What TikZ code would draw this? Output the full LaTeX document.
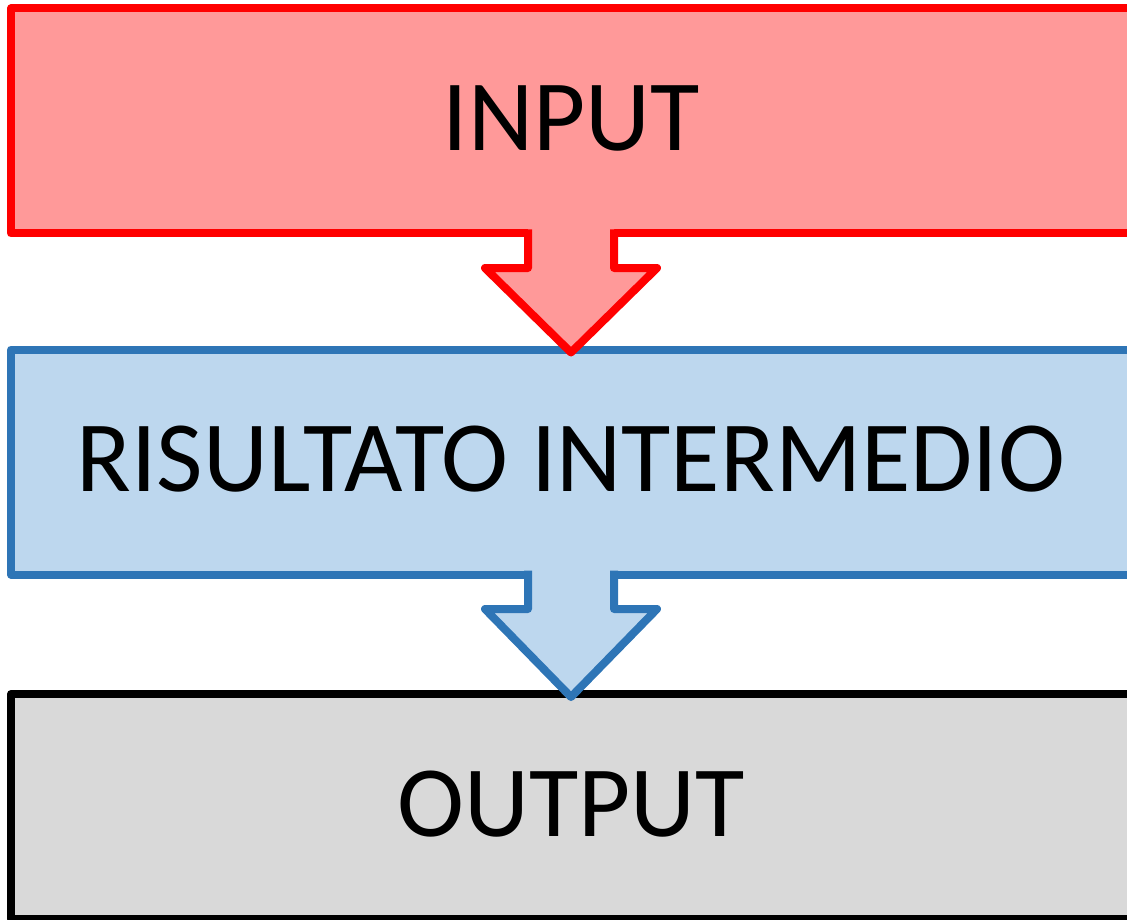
\documentclass[tikz,border=0pt]{standalone}
\usepackage{fontspec}
\setmainfont{Carlito}
\usetikzlibrary{calc}

\definecolor{inline}{HTML}{FF0000}
\definecolor{infill}{HTML}{FF9999}
\definecolor{midline}{HTML}{2E75B6}
\definecolor{midfill}{HTML}{BDD7EE}
\definecolor{outfill}{HTML}{D9D9D9}

% block arrow hanging from the bottom of #1 down to the top of #2
\newcommand\flowarrow[4]{%
  \fill[#4] ($(#1.south)+(-43,-8)$) -- ($(#1.south)+(-43,34.5)$)
    -- ($(#1.south)+(-86,34.5)$) -- ($(#2.north)+(0,3)$)
    -- ($(#1.south)+(86,34.5)$) -- ($(#1.south)+(43,34.5)$)
    -- ($(#1.south)+(43,-8)$) -- cycle;
  \draw[#3, line width=8pt, line join=round] ($(#1.south)+(-43,-4)$) -- ($(#1.south)+(-43,34.5)$)
    -- ($(#1.south)+(-86,34.5)$) -- ($(#2.north)+(0,3)$)
    -- ($(#1.south)+(86,34.5)$) -- ($(#1.south)+(43,34.5)$)
    -- ($(#1.south)+(43,-4)$);
}

\begin{document}
\begin{tikzpicture}[x=1pt, y=-1pt,
  stage/.style={rectangle, minimum width=1120pt, minimum height=225pt,
    inner sep=0pt, outer sep=0pt, line width=8pt, line join=round,
    text depth=6pt,
    font=\fontsize{101}{110}\selectfont, text=black},
  inputbox/.style={stage, draw=inline, fill=infill},
  midbox/.style={stage, draw=midline, fill=midfill},
  outputbox/.style={stage, draw=black, fill=outfill}]
  \useasboundingbox (0,0) rectangle (1127,920);
  \clip (0,0) rectangle (1127,920);

  \node[inputbox]  (b1) at (571,121)   {INPUT};
  \node[midbox]    (b2) at (571,462)   {RISULTATO INTERMEDIO};
  \node[outputbox] (b3) at (571,806.5) {OUTPUT};

  \flowarrow{b1}{b2}{inline}{infill}
  \flowarrow{b2}{b3}{midline}{midfill}
\end{tikzpicture}
\end{document}
